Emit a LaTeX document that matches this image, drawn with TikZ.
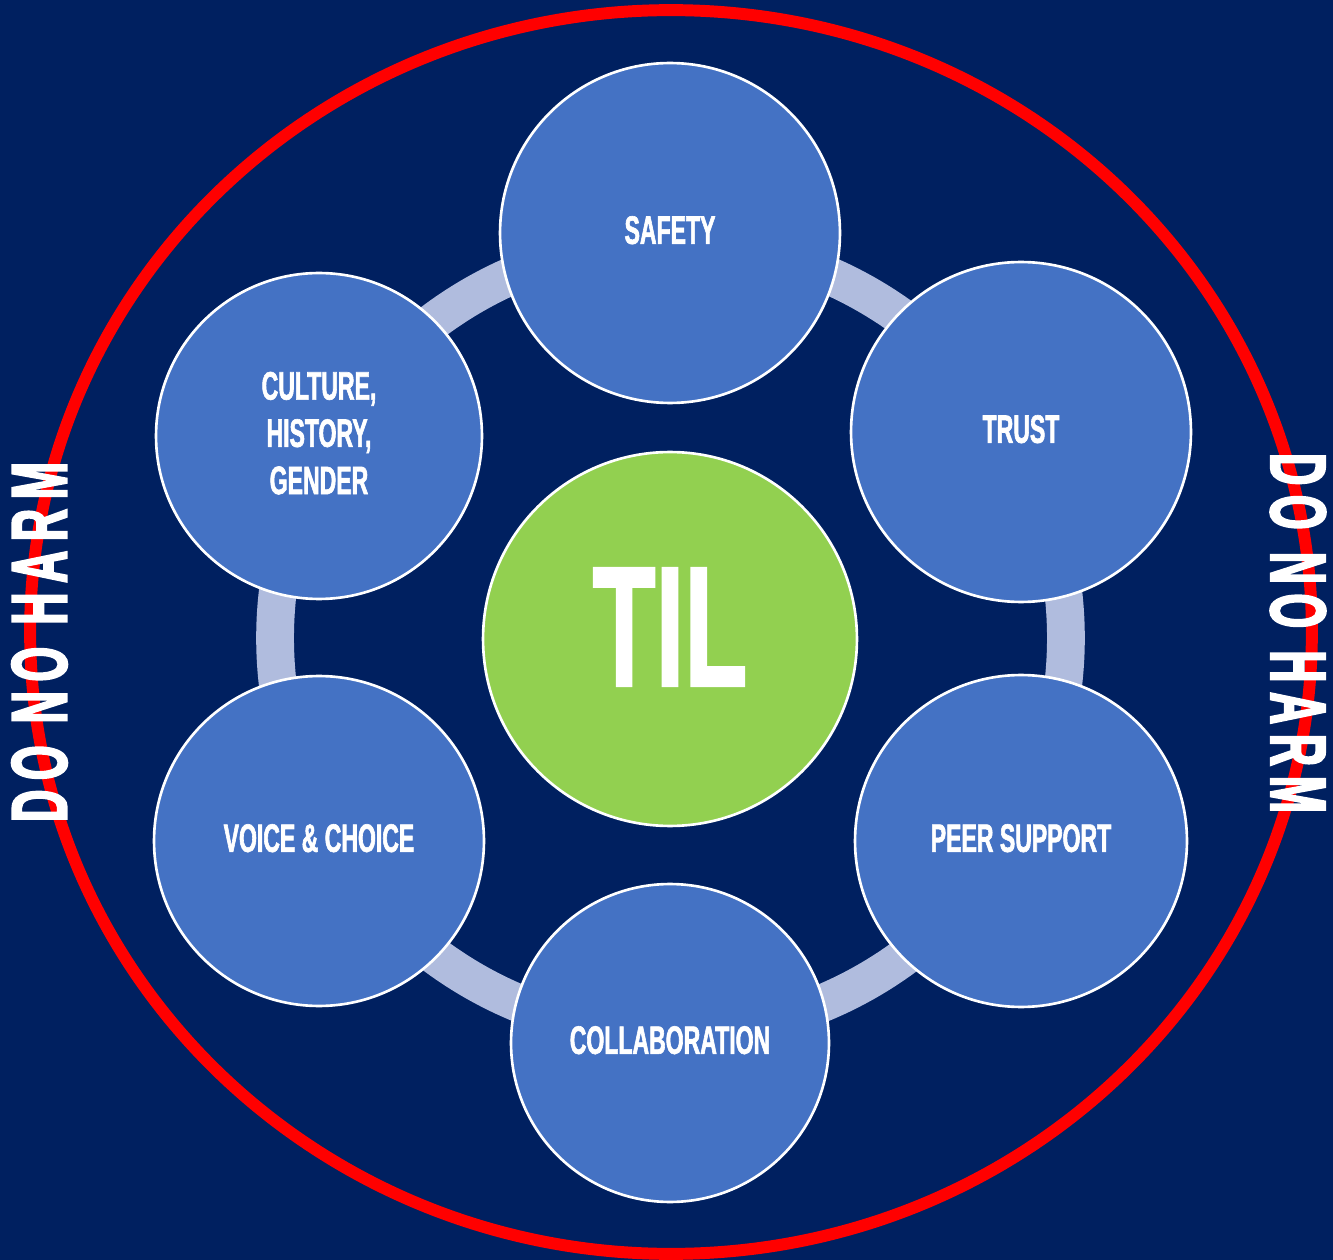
\documentclass[tikz,border=0pt]{standalone}
\usepackage{fontspec}
\usepackage{graphicx}
% condensed bold faces built from Liberation Sans
\newfontfamily\lblfont[FakeStretch=0.58,FakeBold=1.5]{Liberation Sans}
\newfontfamily\tilfont[FakeStretch=0.6,FakeBold=1]{Liberation Sans}
\newfontfamily\harmfont[FakeStretch=0.66,FakeBold=2.5,LetterSpace=14]{Liberation Sans}
\definecolor{pagenavy}{HTML}{002060}
\definecolor{petalblue}{HTML}{4472C4}
\definecolor{hubgreen}{HTML}{92D050}
\definecolor{ringlav}{HTML}{B0BCDE}
\definecolor{harmred}{HTML}{FF0000}
\begin{document}
\begin{tikzpicture}[x=0.02cm,y=-0.02cm,
  petal/.style={circle, draw=white, line width=1.5pt, fill=petalblue,
    inner sep=0pt, text=white, align=center, text depth=0.12cm,
    font=\lblfont\bfseries\fontsize{22.6}{26.9}\selectfont},
  hubdisc/.style={circle, draw=white, line width=1.5pt, fill=hubgreen,
    inner sep=0pt, text=white, text depth=0.48cm,
    font=\tilfont\bfseries\fontsize{98}{100}\selectfont},
  ringline/.style={draw=ringlav, line width=21.5pt},
  boundary/.style={draw=harmred, line width=6.8pt},
  harm/.style={inner sep=0pt, text=white, font=\harmfont\bfseries\fontsize{40}{40}\selectfont}]
  % page and background
  \useasboundingbox (0,0) rectangle (1333,1260);
  \fill[pagenavy] (0,0) rectangle (1333,1260);
  % outer red boundary, cut by the page edge
  \begin{scope}
    \clip (0,0) rectangle (1333,1260);
    \draw[boundary] (671,632) ellipse [x radius=12.82cm, y radius=12.44cm];
  \end{scope}
  % ring joining the six principles
  \coordinate (hub) at (670.5,638);
  \draw[ringline] (hub) circle [radius=7.91cm];
  % principles
  \node[petal, minimum size=6.8cm]  (safety)  at (670,233)  {SAFETY};
  \node[petal, minimum size=6.8cm]  (trust)   at (1021,432) {TRUST};
  \node[petal, minimum size=6.64cm] (peer)    at (1021,841) {PEER SUPPORT};
  \node[petal, minimum size=6.36cm] (collab)  at (670,1043) {COLLABORATION};
  \node[petal, minimum size=6.6cm]  (voice)   at (319,841)  {VOICE \& CHOICE};
  \node[petal, minimum size=6.52cm] (culture) at (319,436)  {CULTURE,\\HISTORY,\\GENDER};
  % centre
  \node[hubdisc, minimum size=7.48cm] (til) at (670,639) {TIL};
  % side captions
  \node[harm, rotate=90]  (harmL) at (39.5,642) {\resizebox{7.2cm}{1.1cm}{DO NO HARM}};
  \node[harm, rotate=-90] (harmR) at (1298,633) {\resizebox{7.2cm}{1.1cm}{DO NO HARM}};
\end{tikzpicture}
\end{document}
